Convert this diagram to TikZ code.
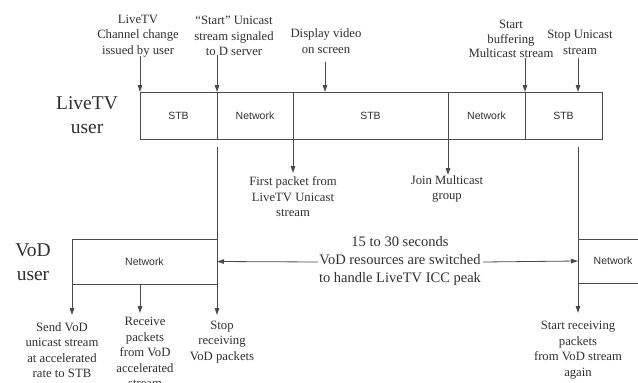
\documentclass[tikz,border=0pt]{standalone}
\usepackage{fontspec}
\setmainfont{Liberation Serif}
\setsansfont{Liberation Sans}
\usetikzlibrary{arrows.meta,calc}
\definecolor{ln}{HTML}{4A4A4A}
\definecolor{tx}{HTML}{303030}
\begin{document}
\begin{tikzpicture}[x=1pt,y=-1pt,
  seg/.style={draw=ln, line width=0.8pt, minimum height=47pt, inner sep=0pt, outer sep=0pt,
    font=\sffamily\fontsize{10.5}{12}\selectfont, text=tx, anchor=north west},
  lbl/.style={align=center, inner sep=0pt, text=tx, font=\fontsize{12.7}{15.5}\selectfont},
  big/.style={align=center, inner sep=0pt, text=tx, font=\fontsize{19.5}{24}\selectfont},
  mid/.style={align=center, inner sep=0pt, text=tx, font=\fontsize{14.5}{18}\selectfont},
  arr/.style={draw=ln, line width=0.8pt, -{Triangle[length=7pt,width=4.5pt]}},
  plain/.style={draw=ln, line width=0.8pt}]
\clip (0,0) rectangle (638,383);
\fill[white] (0,0) rectangle (638,383);

% LiveTV user row
\node[big] (liveuser) at (87,115) {LiveTV\\user};
\node[seg, minimum width=77pt] (s1) at (140,92) {STB};
\node[seg, minimum width=76pt] (s2) at (217,92) {Network};
\node[seg, minimum width=155pt] (s3) at (293,92) {STB};
\node[seg, minimum width=77pt] (s4) at (448,92) {Network};
\node[seg, minimum width=77pt] (s5) at (525,92) {STB};

% VoD user row
\node[big] (voduser) at (33,262) {VoD\\user};
\node[seg, minimum width=145pt, minimum height=45pt] (v1) at (72,239) {Network};
\node[seg, minimum width=70pt, minimum height=44pt] (v2) at (578,239) {Network};

% top labels
\node[lbl] (l1) at (138,36) {LiveTV\\Channel change\\issued by user};
\node[lbl] (l2) at (234,36) {“Start” Unicast\\stream signaled\\to D server};
\node[lbl] (l3) at (326,41) {Display video\\on screen};
\node[lbl, font=\fontsize{12.7}{14.5}\selectfont] (l4) at (511,39) {Start\\buffering\\Multicast stream};
\node[lbl] (l5) at (580,42.5) {Stop Unicast\\stream};

\coordinate (c1) at (140,56);
\coordinate (c2) at (217,55);
\coordinate (c3) at (325,62);
\coordinate (c4) at (525,58);
\coordinate (c5) at (578,58);
\draw[arr] (c1) -- (s1.north west);
\draw[arr] (c2) -- (s2.north west);
\draw[arr] (c3) -- ($(s3.north west)+(32,0)$);
\draw[arr] (c4) -- (s5.north west);
\draw[arr] (c5) -- ($(s5.north west)+(53,0)$);

% labels under top row
\node[lbl] (l6) at (293,197) {First packet from\\LiveTV Unicast\\stream};
\node[lbl] (l7) at (447,189) {Join Multicast\\group};
\coordinate (t6) at (293,173);
\coordinate (t7) at (448,175);
\draw[arr] (s3.south west) -- (t6);
\draw[arr] (s4.south west) -- (t7);

% long vertical lines
\coordinate (p1) at (217,147);
\coordinate (q1) at (217,315);
\coordinate (p2) at (578,147);
\coordinate (q2) at (578,313);
\draw[arr] (p1) -- (q1);
\draw[arr] (p2) -- (q2);

% middle text and arrows
\node[mid] (m) at (400,261) {15 to 30 seconds\\VoD resources are switched\\to handle LiveTV ICC peak};
\coordinate (ml) at (318,262);
\coordinate (mr) at (483,262);
\draw[arr] (ml) -- (v1.east);
\draw[arr] (mr) -- (v2.west);

% bottom labels
\node[lbl] (b1) at (62,350) {Send VoD\\unicast stream\\at accelerated\\rate to STB};
\node[lbl] (b2) at (145,352.5) {Receive\\packets\\from VoD\\accelerated\\stream};
\node[lbl] (b3) at (222,342) {Stop\\receiving\\VoD packets};
\node[lbl] (b4) at (578,350) {Start receiving\\packets\\from VoD stream\\again};
\coordinate (e1) at (72,315);
\coordinate (e2) at (140,313);
\draw[arr] (v1.south west) -- (e1);
\draw[arr] ($(v1.south west)+(68,0)$) -- (e2);
\end{tikzpicture}
\end{document}
